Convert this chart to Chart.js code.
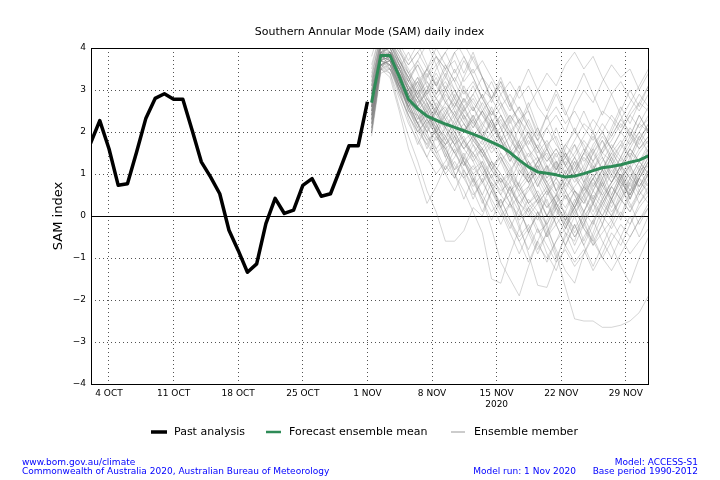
<!DOCTYPE html>
<html><head><meta charset="utf-8">
<script src="https://cdn.jsdelivr.net/npm/chart.js@4/dist/chart.umd.min.js"></script>
<style>html,body{margin:0;padding:0;background:#fff}canvas{display:block}</style>
</head><body>
<canvas id="c" width="720" height="480"></canvas>
<script>
// ---- axis ticks (days since 1 Oct 2020) ----
const tickDays = [3, 10, 17, 24, 31, 38, 45, 52, 59];
const tickLabels = ["4 OCT", "11 OCT", "18 OCT", "25 OCT", "1 NOV", "8 NOV", ["15 NOV", "2020"], "22 NOV", "29 NOV"];
const yTicks = [-4, -3, -2, -1, 0, 1, 2, 3, 4];

// ---- past analysis: daily from 2 Oct (day 1) to 1 Nov (day 31) ----
const pastStartDay = 1;
const pastValues = [1.73, 2.27, 1.6, 0.73, 0.77, 1.53, 2.33, 2.8, 2.91, 2.78, 2.78, 2.05, 1.29, 0.93, 0.53,
  -0.34, -0.82, -1.34, -1.14, -0.18, 0.42, 0.06, 0.14, 0.73, 0.89, 0.47, 0.53, 1.09, 1.67, 1.67, 2.72];

// ---- forecast: daily from model run (1 Nov) ----
const forecastStartDay = 31.45;
const meanValues = [2.7, 3.82, 3.82, 3.32, 2.78, 2.55, 2.38, 2.28, 2.19, 2.11, 2.03, 1.95, 1.86, 1.76, 1.66,
  1.51, 1.33, 1.17, 1.05, 1.02, 0.98, 0.93, 0.95, 1.01, 1.08, 1.15, 1.18, 1.22, 1.28, 1.33, 1.43];

// ---- ensemble members (estimated) ----
const m01 = [2.3,3.6,3.7,3.1,2.6,2.2,2.4,2.0,1.7,1.9,1.4,1.1,1.3,0.9,0.6,0.8,0.3,0.1,-0.4,-0.2,-0.9,-1.7,-2.45,-2.5,-2.5,-2.65,-2.65,-2.6,-2.5,-2.3,-1.9];
const m02 = [2.6,3.9,3.5,3.0,2.7,2.2,1.8,2.0,1.5,1.1,1.3,0.8,0.4,-0.3,-1.1,-1.5,-1.9,-1.2,-0.6,-0.1,0.3,0.1,0.6,0.4,0.9,1.2,0.8,1.1,1.5,1.3,1.7];
const m03 = [2.9,3.7,3.9,3.2,2.5,2.4,1.9,1.5,1.7,1.0,0.6,0.1,-0.4,-1.5,-1.6,-0.9,-0.3,0.2,-0.1,0.5,0.9,0.6,1.1,1.5,1.2,0.8,1.3,1.7,1.4,1.9,2.1];
const m04 = [2.2,3.6,3.6,2.9,2.4,2.0,2.3,1.9,1.6,1.8,1.3,1.0,1.2,0.7,0.3,0.5,-0.2,-0.9,-1.65,-1.7,-1.1,-0.4,-0.6,0.1,0.5,0.2,0.7,1.0,0.6,0.9,1.2];
const m05 = [2.8,4.0,4.1,3.6,3.1,2.7,2.9,2.4,2.6,2.1,1.8,2.0,1.5,1.2,1.4,0.9,0.6,0.2,0.4,-0.3,-0.8,-1.3,-1.6,-0.9,-0.4,0.2,-0.1,0.5,0.9,0.7,1.1];
const m06 = [2.5,3.8,3.7,3.1,2.9,2.6,2.2,2.5,2.0,1.7,1.9,1.4,1.6,1.1,0.8,1.0,0.5,0.7,0.3,0.6,0.1,-0.2,0.2,-0.3,-0.6,-0.2,-0.7,-1.2,-1.6,-1.0,-0.5];
const m07 = [2.0,3.5,3.4,2.6,1.9,1.3,0.6,0.1,-0.6,-0.6,-0.35,0.2,0.0,0.6,0.9,0.5,1.1,0.8,1.3,1.6,1.2,1.7,1.4,1.0,1.5,1.9,1.6,2.0,1.7,2.2,2.0];
const m08 = [2.4,3.5,3.3,2.5,1.6,1.0,0.3,0.7,1.2,0.9,1.4,1.8,1.5,1.1,1.5,1.2,0.7,0.3,0.5,0.0,0.4,0.8,0.5,0.1,0.6,1.0,1.4,1.1,1.6,1.3,1.0];
const m09 = [3.0,4.1,4.3,3.9,3.6,3.9,4.2,3.8,3.5,3.7,3.2,3.5,3.0,2.8,3.1,2.6,2.3,2.5,2.0,1.7,1.9,1.4,1.8,2.2,2.0,2.5,2.3,2.0,2.4,2.7,2.5];
const m10 = [2.6,3.9,4.0,3.4,3.0,3.2,2.8,2.5,2.9,2.6,3.0,2.7,2.4,2.0,2.3,1.8,1.5,1.9,1.6,2.1,2.4,2.0,2.6,3.0,2.7,3.2,3.6,3.3,3.5,3.0,3.4];
const m11 = [2.7,3.8,3.6,3.0,2.8,2.3,2.5,2.1,1.9,2.2,1.7,1.5,1.8,1.3,1.0,0.6,0.8,0.3,0.0,0.4,-0.2,0.1,-0.4,0.0,0.3,0.7,0.4,0.9,1.2,0.8,0.6];
const m12 = [3.1,4.2,4.0,3.5,3.0,2.7,3.0,2.6,2.3,2.0,2.4,2.1,2.5,2.2,1.8,2.0,1.6,1.2,1.4,0.9,1.2,0.7,1.0,1.4,1.1,1.5,1.3,0.9,1.2,1.6,1.9];
const m13 = [2.2,3.7,3.8,3.4,2.9,3.3,2.9,3.2,2.7,2.4,2.0,2.3,1.9,2.2,1.7,1.4,1.0,1.3,0.9,1.2,0.6,0.9,1.3,1.0,1.5,1.8,1.4,1.7,2.1,1.8,2.2];
const m14 = [2.9,3.9,3.9,3.4,2.6,2.0,1.7,2.1,2.5,2.8,2.3,2.6,2.2,1.9,2.1,1.6,1.3,0.9,1.2,0.8,0.5,0.2,0.6,0.3,0.8,0.5,0.1,0.4,0.9,1.3,1.6];
const m15 = [2.5,3.6,3.5,3.2,2.7,2.9,2.4,2.0,2.3,2.6,2.2,1.9,2.2,2.5,2.1,2.4,2.0,1.6,1.3,1.5,1.0,1.3,0.9,1.2,1.7,2.0,1.6,1.3,1.7,2.0,2.4];
const m16 = [2.0,3.5,3.9,3.7,3.3,2.8,2.5,2.8,2.4,2.0,1.6,1.9,1.5,1.8,1.4,1.0,0.7,1.0,0.5,0.2,0.5,0.0,-0.3,0.1,-0.2,0.3,0.7,0.4,0.1,0.5,0.9];
const m17 = [3.3,4.3,4.2,3.8,3.4,3.7,3.3,3.6,3.9,4.2,3.8,3.4,3.7,3.3,2.9,3.2,2.8,3.1,2.6,2.3,2.6,2.2,2.5,2.1,1.8,2.2,1.9,2.3,2.0,1.6,1.9];
const m18 = [2.6,3.7,3.8,3.3,2.9,2.5,2.8,2.4,2.1,2.5,2.2,1.8,2.1,1.7,2.0,2.4,2.1,2.6,3.0,3.4,3.1,3.6,3.9,3.5,3.8,3.3,2.9,3.2,2.8,2.5,2.9];
const m19 = [2.3,3.6,3.7,3.0,2.6,2.2,1.9,1.6,1.9,1.5,1.2,1.5,1.1,0.7,0.9,0.5,0.1,-0.3,0.0,-0.5,-0.2,-0.7,-1.1,-0.8,-1.3,-0.9,-0.4,-0.7,-0.2,0.2,0.5];
const m20 = [2.8,3.9,3.8,3.4,3.1,2.7,2.3,2.6,2.2,1.8,2.1,1.7,1.4,1.7,1.3,1.6,1.2,0.8,1.1,0.7,1.0,1.4,1.1,1.5,1.9,1.5,1.8,2.2,1.9,1.6,1.8];
const m21 = [2.4,3.7,3.9,3.5,3.2,2.9,3.2,2.8,3.1,2.7,2.3,1.9,1.6,1.2,0.8,1.1,0.7,0.3,0.6,0.2,0.5,0.9,0.6,0.3,0.7,1.1,0.8,1.2,1.6,2.0,1.7];
const m22 = [2.1,3.6,3.4,2.8,2.2,1.8,1.4,1.0,1.3,1.7,1.3,0.9,0.5,0.1,0.4,-0.1,-0.5,-0.2,-0.7,-1.0,-0.6,-0.3,0.1,-0.2,0.3,0.0,0.4,0.8,0.5,0.9,1.3];
const m23 = [3.2,4.1,3.9,3.5,3.0,3.3,2.8,2.5,2.1,2.4,2.0,2.3,2.7,2.3,1.9,1.5,1.8,1.4,1.7,1.3,1.6,1.2,0.9,0.6,0.9,0.5,0.8,1.2,0.9,1.3,1.0];
const m24 = [2.6,3.8,4.1,3.6,3.3,3.6,3.2,2.9,3.2,2.8,2.5,2.8,2.4,2.1,1.8,1.4,1.7,1.3,1.0,0.6,0.9,0.5,0.2,0.5,0.9,1.3,1.7,1.4,1.8,2.2,2.6];
const m25 = [2.0,3.5,3.6,3.1,2.8,2.4,2.0,2.3,1.9,1.5,1.1,0.7,1.0,0.6,0.2,-0.2,-0.6,-0.3,-0.8,-0.4,0.0,-0.4,-0.9,-0.5,-0.1,0.3,0.0,0.4,0.1,0.6,0.3];
const m26 = [2.7,3.9,3.7,3.2,2.7,2.5,2.1,1.8,2.1,1.9,1.6,1.3,1.6,1.9,1.5,1.1,1.4,1.0,1.3,1.7,1.3,1.0,1.4,1.8,1.5,1.1,1.5,1.2,1.6,1.3,1.5];
const m27 = [3.0,4.0,4.2,3.7,3.3,2.9,2.6,2.9,3.3,3.0,2.6,2.2,2.5,2.1,2.4,2.0,1.7,2.0,1.6,1.2,0.9,1.2,0.8,1.1,0.7,1.1,1.5,1.8,1.4,1.1,1.2];
const m28 = [2.3,3.7,3.5,3.1,2.6,2.8,2.4,2.7,2.3,1.9,2.2,1.8,1.5,1.1,1.4,1.0,0.6,0.9,0.4,0.7,0.3,0.6,0.2,0.6,1.0,0.7,1.1,0.8,0.5,0.9,0.7];
const m29 = [2.5,3.8,3.9,3.5,3.0,2.6,3.0,3.4,3.0,3.3,2.9,3.2,2.8,2.4,2.7,2.3,2.6,2.2,1.8,2.1,1.7,1.4,1.7,1.3,1.6,2.0,2.4,2.1,2.5,2.9,2.6];
const m30 = [2.9,4.0,3.7,3.1,2.5,2.2,1.8,1.4,1.0,1.3,0.9,0.5,0.8,0.4,0.0,0.3,-0.1,0.2,-0.3,-0.7,-1.1,-0.8,-1.2,-0.9,-0.5,-1.0,-0.6,-0.2,-0.5,-0.1,0.2];
const m31 = [2.2,3.6,3.8,3.3,2.8,3.1,2.7,2.3,2.7,2.4,2.8,2.5,2.9,2.5,2.2,1.9,2.3,2.0,1.6,1.3,1.6,1.2,1.5,1.9,2.3,2.0,1.6,2.0,2.4,2.1,2.3];
const m32 = [3.4,4.3,4.1,3.7,3.4,3.1,3.5,3.8,3.5,3.9,4.1,3.7,3.3,3.0,2.6,2.9,2.5,2.1,1.8,1.4,1.1,1.4,1.0,0.7,1.0,0.6,1.0,1.4,1.1,1.5,1.8];
const m33 = [2.6,3.7,3.6,3.0,2.4,2.0,2.3,1.9,1.6,1.2,0.9,1.2,0.8,1.1,0.7,0.3,0.0,0.4,0.1,-0.2,0.2,-0.1,0.3,0.7,0.4,0.0,-0.3,0.1,-0.2,0.3,0.6];
const m34 = [2.8,3.8,3.7,3.3,2.9,2.6,2.3,2.0,1.7,2.0,1.6,1.9,1.6,1.2,0.9,0.6,0.3,0.6,0.9,0.5,0.8,0.4,0.7,1.0,0.6,0.3,0.7,0.4,0.8,1.2,0.9];
const m35 = [2.1,3.6,3.7,3.4,3.0,2.6,2.2,2.5,2.1,1.7,2.0,2.4,2.0,1.6,1.9,1.5,1.1,0.8,1.1,0.7,0.3,-0.1,-0.5,-0.2,-0.6,-1.0,-1.3,-0.9,-0.5,-0.1,0.3];
const m36 = [3.1,4.1,3.9,3.4,2.9,3.2,3.5,3.1,2.7,3.0,2.6,2.9,2.5,2.8,2.4,2.0,2.3,1.9,1.5,1.8,1.4,1.7,2.0,1.7,1.3,1.6,1.9,2.3,2.7,3.1,3.5];
const m37 = [2.4,3.7,3.8,3.2,2.5,2.1,1.7,1.4,1.1,1.4,1.8,1.5,1.2,0.8,0.5,0.2,0.5,0.1,0.4,0.0,0.3,-0.1,0.2,-0.3,-0.7,-0.4,-0.1,-0.5,-0.9,-0.6,-0.3];
const m38 = [2.7,3.9,4.0,3.6,3.2,2.8,2.4,2.1,2.4,2.7,2.4,2.0,1.7,2.0,1.6,1.9,1.5,1.8,1.4,1.0,1.3,0.9,1.2,0.8,1.1,1.4,1.0,0.7,1.0,0.7,1.0];
const m39 = [2.5,3.7,3.6,3.1,2.7,3.0,2.6,2.2,1.8,1.5,1.8,1.4,1.0,1.3,1.0,0.7,0.3,0.0,0.3,0.6,0.2,0.5,0.1,0.4,0.0,0.4,0.8,1.2,0.9,0.5,0.8];
const m40 = [2.9,4.0,3.9,3.5,3.1,2.8,3.1,2.8,2.5,2.2,2.5,2.2,1.9,1.5,1.8,1.5,1.2,1.5,1.1,0.8,1.1,1.5,1.2,1.6,1.3,0.9,1.2,1.6,2.0,1.7,2.1];
const m41 = [3.5,4.4,4.3,4.0,3.6,3.9,3.5,3.1,3.6,3.2,2.7,3.1,2.6,2.2,2.6,2.1,1.6,2.0,1.4,0.9,1.3,0.6,0.2,0.7,0.3,-0.2,0.4,0.0,0.6,1.1,0.7];
const m42 = [2.4,3.8,4.2,3.8,3.2,3.7,4.1,3.6,3.0,3.5,3.0,2.5,2.9,2.3,1.8,2.3,1.7,1.2,0.7,1.2,0.6,0.0,-0.5,-0.1,-0.7,-0.2,0.4,-0.1,0.5,1.0,1.4];
const m43 = [1.9,3.4,3.5,3.0,2.3,1.7,2.2,1.6,1.1,1.6,1.0,0.4,0.9,0.3,-0.2,0.3,-0.3,-0.8,-0.3,-0.9,-1.3,-0.7,-0.2,-0.7,-0.2,0.4,0.0,0.6,1.1,0.6,1.0];
const m44 = [3.8,4.5,4.2,3.7,3.3,2.8,3.3,3.8,3.3,3.9,3.4,3.9,3.3,2.8,3.3,2.7,2.2,2.7,2.1,1.6,2.1,1.5,1.0,1.5,2.0,1.4,0.9,1.4,1.9,2.4,2.0];
const m45 = [2.6,3.9,3.8,3.1,2.6,3.0,2.5,2.0,1.4,1.9,1.3,0.8,1.3,0.7,0.2,-0.3,0.2,-0.4,-0.9,-0.4,0.2,-0.3,0.3,0.8,0.3,0.9,1.4,0.9,1.4,1.9,1.5];
const m46 = [2.9,4.1,4.4,4.0,3.4,2.9,3.4,2.9,3.4,2.8,3.3,3.8,3.3,2.7,3.2,2.6,3.1,2.5,1.9,2.4,1.8,1.2,1.7,1.1,1.6,1.1,0.5,1.0,0.4,0.9,1.3];
const m47 = [2.2,3.7,3.6,3.3,2.7,2.2,1.6,2.1,1.5,1.0,0.4,0.9,0.3,0.8,0.2,0.7,0.2,-0.4,0.1,-0.5,0.0,0.5,0.0,-0.6,-0.1,-0.6,-1.0,-0.5,0.0,-0.5,0.0];
const m48 = [3.1,4.2,4.0,3.5,3.9,3.4,2.9,3.3,2.8,2.3,2.8,2.3,1.8,2.3,1.8,1.3,1.8,2.3,1.8,2.4,2.9,2.4,2.9,3.4,2.9,2.4,2.9,2.4,1.9,2.4,2.0];
const m49 = [2.7,3.8,3.9,3.4,2.9,2.4,2.0,1.5,1.0,0.6,1.1,0.6,0.1,0.6,0.1,-0.4,-0.9,-0.4,0.1,-0.4,-1.0,-0.5,0.0,0.5,0.1,0.6,0.2,0.7,0.3,-0.2,0.2];
const m50 = [3.3,4.3,4.4,4.1,3.7,4.1,3.6,3.1,3.5,3.0,2.5,2.9,3.3,2.8,3.2,2.7,2.2,1.7,2.1,1.6,1.1,1.5,1.0,0.5,0.9,0.4,0.8,1.2,0.7,1.1,1.5];
const m51 = [2.5,3.8,3.7,3.2,2.6,2.1,2.5,2.0,2.4,2.9,2.4,1.9,1.4,0.9,1.3,0.8,1.3,0.8,0.3,-0.2,0.3,-0.2,-0.7,-0.2,0.3,0.8,0.4,0.9,0.4,0.9,1.3];
const m52 = [2.0,3.5,3.8,3.5,3.0,2.5,2.0,2.5,3.0,2.6,3.1,2.6,2.1,2.6,2.1,1.6,2.1,1.6,1.1,1.6,1.1,1.6,2.1,1.6,1.1,1.6,2.1,2.6,2.2,2.7,3.1];
const m53 = [3.6,4.4,4.1,3.6,3.0,2.6,2.1,2.6,2.1,1.7,1.2,1.7,1.2,0.7,0.2,0.7,0.2,0.7,1.2,0.7,0.2,-0.3,0.2,0.7,1.2,0.7,1.2,0.7,0.2,0.6,1.0];
const m54 = [2.3,3.7,3.9,3.6,3.1,2.6,3.0,3.5,3.9,3.4,3.8,3.3,2.8,3.2,2.7,2.2,2.6,2.1,1.6,1.1,0.6,1.1,0.6,0.1,0.6,1.1,1.6,1.1,0.6,1.1,1.6];
const m55 = [2.8,4.0,3.8,3.3,2.8,3.2,2.7,2.2,1.8,2.3,1.8,1.3,0.8,1.3,0.8,0.3,0.8,1.3,0.8,0.3,-0.2,-0.7,-0.2,-0.7,-1.2,-0.7,-0.2,0.3,0.8,0.3,0.7];
const m56 = [3.0,4.1,4.2,3.9,3.5,3.0,3.5,4.0,3.6,3.2,3.7,3.3,2.8,2.4,2.9,2.5,3.0,3.5,3.0,2.5,3.0,2.5,2.0,2.5,2.0,1.5,2.0,2.5,3.0,2.6,3.1];
const m57 = [2.1,3.5,3.5,2.9,2.4,1.9,1.4,1.9,1.4,0.9,1.4,0.9,0.4,-0.1,0.4,-0.1,-0.6,-1.1,-0.6,-1.1,-0.6,-0.1,0.4,-0.1,0.4,0.9,0.4,0.9,0.4,0.9,0.5];
const m58 = [2.6,3.9,4.1,3.7,3.2,3.6,3.1,2.6,3.0,2.5,2.0,2.4,1.9,2.3,1.8,1.3,1.7,1.2,0.7,1.1,1.5,1.0,1.4,0.9,0.4,0.8,0.3,0.7,1.2,0.7,1.1];
const m59 = [3.2,4.2,4.0,3.4,2.8,2.3,2.7,2.2,1.7,2.1,2.6,2.1,2.5,2.0,2.4,1.9,1.4,0.9,1.3,0.8,0.3,0.8,1.3,0.8,1.3,1.8,1.3,0.8,1.3,1.8,2.2];
const m60 = [2.4,3.6,3.7,3.2,2.7,2.2,2.6,2.1,1.6,1.1,1.5,1.0,0.5,1.0,0.5,1.0,1.5,1.0,0.5,0.0,0.5,1.0,0.5,0.0,-0.5,0.0,0.5,1.0,0.5,1.0,1.4];
const members = [m01,m02,m03,m04,m05,m06,m07,m08,m09,m10,m11,m12,m13,m14,m15,m16,m17,m18,m19,m20,
  m21,m22,m23,m24,m25,m26,m27,m28,m29,m30,m31,m32,m33,m34,m35,m36,m37,m38,m39,m40,
  m41,m42,m43,m44,m45,m46,m47,m48,m49,m50,m51,m52,m53,m54,m55,m56,m57,m58,m59,m60];

// ---- build chart ----
const FONT = "'DejaVu Sans', 'Liberation Sans', sans-serif";
const toPts = (vals, start) => vals.map((v, i) => ({x: start + i, y: v}));
const lineBase = {pointRadius: 0, pointHoverRadius: 0, tension: 0, fill: false, clip: 0, borderJoinStyle: 'round'};

const datasets = [
  Object.assign({label: 'Forecast ensemble mean', data: toPts(meanValues, forecastStartDay),
    borderColor: '#2e8b57', borderWidth: 3}, lineBase),
  Object.assign({label: 'Past analysis', data: toPts(pastValues, pastStartDay),
    borderColor: '#000000', borderWidth: 3.5}, lineBase)
].concat(members.map(m => Object.assign({label: 'Ensemble member', data: toPts(m, forecastStartDay),
    borderColor: 'rgba(128,128,128,0.33)', borderWidth: 1}, lineBase)));

const decor = {
  id: 'decor',
  beforeDatasetsDraw(chart) {
    const {ctx, chartArea: a, scales: {y}} = chart;
    const y0 = Math.round(y.getPixelForValue(0)) + 0.5;
    ctx.save();
    ctx.strokeStyle = '#000'; ctx.lineWidth = 1.2;
    ctx.beginPath(); ctx.moveTo(a.left, y0); ctx.lineTo(a.right, y0); ctx.stroke();
    ctx.restore();
  },
  afterDraw(chart) {
    const {ctx, chartArea: a} = chart;
    ctx.save();
    // frame
    ctx.strokeStyle = '#000'; ctx.lineWidth = 1;
    ctx.strokeRect(Math.round(a.left) + 0.5, Math.round(a.top) + 0.5,
      Math.round(a.right - a.left), Math.round(a.bottom - a.top));
    // title
    ctx.fillStyle = '#000';
    ctx.font = '11px ' + FONT;
    ctx.textAlign = 'center'; ctx.textBaseline = 'middle';
    ctx.fillText('Southern Annular Mode (SAM) daily index', (a.left + a.right) / 2, 32);
    // y title
    ctx.save();
    ctx.translate(59, (a.top + a.bottom) / 2);
    ctx.rotate(-Math.PI / 2);
    ctx.font = '13px ' + FONT;
    ctx.fillText('SAM index', 0, 0);
    ctx.restore();
    // legend
    const ly = 432;
    const items = [
      {x0: 151, x1: 167, w: 3.5, c: '#000000', t: 'Past analysis', tx: 174},
      {x0: 266, x1: 281, w: 2.5, c: '#2e8b57', t: 'Forecast ensemble mean', tx: 289},
      {x0: 451, x1: 465, w: 1, c: '#999999', t: 'Ensemble member', tx: 474}
    ];
    ctx.font = '11px ' + FONT;
    ctx.textAlign = 'left';
    items.forEach(it => {
      ctx.strokeStyle = it.c; ctx.lineWidth = it.w;
      ctx.beginPath(); ctx.moveTo(it.x0, ly); ctx.lineTo(it.x1, ly); ctx.stroke();
      ctx.fillStyle = '#000';
      ctx.fillText(it.t, it.tx, ly);
    });
    // footer
    ctx.fillStyle = '#0000ff';
    ctx.font = '9px ' + FONT;
    ctx.textAlign = 'left';
    ctx.fillText('www.bom.gov.au/climate', 22, 463);
    ctx.fillText('Commonwealth of Australia 2020, Australian Bureau of Meteorology', 22, 472);
    ctx.textAlign = 'right';
    ctx.fillText('Model: ACCESS-S1', 698, 463);
    ctx.fillText('Base period 1990-2012', 698, 472);
    ctx.fillText('Model run: 1 Nov 2020', 576, 472);
    ctx.restore();
  }
};

new Chart(document.getElementById('c'), {
  type: 'line',
  data: {datasets},
  options: {
    responsive: false, animation: false, devicePixelRatio: 1,
    events: [],
    layout: {padding: {left: 41, right: 72, top: 48, bottom: 66}},
    plugins: {legend: {display: false}, title: {display: false}, tooltip: {enabled: false}},
    scales: {
      x: {
        type: 'linear', min: 1.05, max: 61.4,
        afterBuildTicks: s => { s.ticks = tickDays.map(v => ({value: v})); },
        afterFit: s => { s.height = 30; },
        ticks: {
          autoSkip: false, maxRotation: 0, padding: 4, color: '#000',
          font: {family: FONT, size: 9},
          callback: v => tickLabels[tickDays.indexOf(v)]
        },
        grid: {color: 'rgba(0,0,0,0.85)', lineWidth: 0.8, drawTicks: false},
        border: {display: false, dash: [1, 3]}
      },
      y: {
        min: -4, max: 4,
        afterBuildTicks: s => { s.ticks = yTicks.map(v => ({value: v})); },
        afterFit: s => { s.width = 50; },
        ticks: {
          padding: 5, color: '#000', font: {family: FONT, size: 9},
          callback: v => v < 0 ? '\u2212' + Math.abs(v) : String(v)
        },
        grid: {color: 'rgba(0,0,0,0.85)', lineWidth: 0.8, drawTicks: false},
        border: {display: false, dash: [1, 3]}
      }
    }
  },
  plugins: [decor]
});
</script>
</body></html>
